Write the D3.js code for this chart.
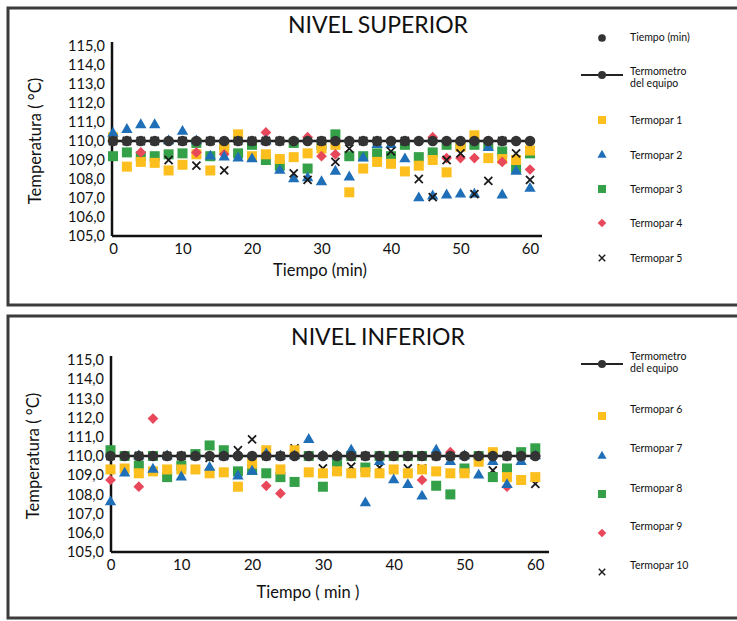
<!DOCTYPE html>
<html>
<head>
<meta charset="utf-8">
<script src="https://cdn.jsdelivr.net/npm/d3@7"></script>
<style>
  body { margin: 0; background: #fff; }
  text { font-family: Lato, "Open Sans", sans-serif; fill: #111; }
</style>
</head>
<body>
<svg id="chart" width="737" height="621"></svg>
<script>
// time axis (min) and the reference thermometer
const tiempo = [0, 2, 4, 6, 8, 10, 12, 14, 16, 18, 20, 22, 24, 26, 28, 30, 32, 34, 36, 38, 40, 42, 44, 46, 48, 50, 52, 54, 56, 58, 60];
const termometro = [110.0, 110.0, 110.0, 110.0, 110.0, 110.0, 110.0, 110.0, 110.0, 110.0, 110.0, 110.0, 110.0, 110.0, 110.0, 110.0,
    110.0, 110.0, 110.0, 110.0, 110.0, 110.0, 110.0, 110.0, 110.0, 110.0, 110.0, 110.0, 110.0, 110.0, 110.0];

// NIVEL SUPERIOR
const termopar1 = [110.2, 108.65, 108.9, 108.85, 108.45, 108.75, 109.3, 108.45, 109.6, 110.35, 109.2, 109.3, 109.05, 109.15, 109.35, 109.6,
    109.8, 107.3, 108.55, 108.9, 108.8, 108.4, 108.7, 109.0, 108.35, 109.7, 110.3, 109.1, 109.05, 109.0, 109.5];
const termopar2 = [110.4, 110.6, 110.85, 110.85, 110.0, 110.5, 110.0, 109.2, 109.15, 109.1, 109.05, 110.0, 108.45, 108.0, 108.05, 107.85,
    108.4, 108.1, 109.1, 109.8, 109.8, 109.05, 107.0, 107.1, 107.15, 107.2, 107.2, 109.65, 107.15, 108.4, 107.5];
const termopar3 = [109.2, 109.4, 109.2, 109.2, 109.3, 109.35, 109.9, 109.2, 109.8, 109.35, 109.8, 109.0, 108.7, 109.9, 108.55, 109.8,
    110.35, 109.2, 109.2, 109.35, 109.2, 109.8, 109.15, 109.4, 109.8, 109.8, 109.8, 109.8, 109.45, 108.55, 109.35];
const termopar4 = [110.0, 110.0, 109.4, 110.0, 110.0, 110.0, 109.4, 110.0, 109.3, 110.0, 110.0, 110.45, 110.0, 110.0, 110.2, 109.2,
    109.3, 110.0, 110.0, 110.0, 110.0, 110.0, 110.0, 110.2, 109.1, 109.1, 109.1, 110.0, 108.9, 110.0, 108.5];
const termopar5 = [110.0, 110.0, 110.0, 110.0, 109.0, 110.0, 108.7, 110.0, 108.45, 110.0, 110.0, 110.0, 110.0, 108.3, 107.95, 110.0,
    108.9, 109.6, 110.0, 110.0, 109.45, 110.0, 108.0, 107.05, 109.0, 109.35, 107.2, 107.9, 110.0, 109.35, 107.95];

// NIVEL INFERIOR
const termopar6 = [109.3, 109.35, 109.1, 109.2, 109.3, 109.3, 109.3, 109.1, 109.15, 108.4, 109.6, 110.3, 109.3, 110.3, 109.15, 109.1,
    109.2, 109.1, 109.15, 109.1, 109.3, 109.1, 109.3, 109.2, 109.1, 109.1, 109.7, 110.2, 108.9, 108.75, 108.9];
const termopar7 = [107.6, 109.1, 110.0, 109.3, 110.0, 108.9, 110.0, 109.4, 110.0, 108.95, 109.2, 110.1, 110.0, 110.0, 110.85, 110.0,
    110.0, 110.3, 107.55, 109.7, 108.75, 108.5, 107.9, 110.3, 109.7, 110.0, 109.0, 109.7, 108.5, 109.7, 110.0];
const termopar8 = [110.3, 110.0, 109.5, 110.0, 108.9, 109.5, 110.1, 110.55, 110.3, 109.2, 109.27, 109.1, 108.9, 108.65, 110.0, 108.4,
    109.7, 110.0, 109.4, 110.0, 110.0, 110.0, 110.0, 108.45, 108.0, 109.35, 110.0, 108.9, 109.35, 110.2, 110.4];
const termopar9 = [108.75, 110.0, 108.4, 111.95, 110.0, 110.0, 110.0, 110.0, 110.0, 110.0, 110.0, 108.45, 108.05, 110.0, 110.0, 110.0,
    110.0, 110.0, 110.0, 110.0, 110.0, 110.0, 108.75, 110.1, 110.2, 110.0, 110.0, 110.0, 108.4, 110.0, 110.0];
const termopar10 = [110.0, 110.0, 110.0, 110.0, 110.0, 110.0, 110.0, 109.9, 110.0, 110.3, 110.87, 110.0, 110.0, 110.4, 110.0, 109.35,
    109.45, 109.45, 110.0, 109.4, 110.0, 109.35, 109.35, 110.0, 110.0, 109.3, 110.0, 109.25, 110.0, 110.0, 108.55];

const yTicks = [105, 106, 107, 108, 109, 110, 111, 112, 113, 114, 115];
const xTicks = [0, 10, 20, 30, 40, 50, 60];

const colors = {
    yellow: '#fcbf1e',
    blue: '#1f6fb8',
    green: '#34a047',
    red: '#e8485a',
    dark: '#333333'
};

const svg = d3.select('#chart');
const fmt = d => d.toFixed(1).replace('.', ',');

function marker(g, shape, color) {
    if (shape === 'x') {
        g.append('path')
            .attr('d', d3.symbol(d3.symbolX, 44)())
            .attr('fill', 'none')
            .attr('stroke', '#1a1a1a')
            .attr('stroke-width', 1.8);
    } else if (shape === 'square') {
        g.append('rect').attr('x', -5).attr('y', -5).attr('width', 10).attr('height', 10).attr('fill', color);
    } else if (shape === 'triangle') {
        g.append('path').attr('d', d3.symbol(d3.symbolTriangle, 56)()).attr('fill', color);
    } else if (shape === 'diamond') {
        // square turned 45°, like the spreadsheet diamond
        g.append('rect').attr('x', -3.8).attr('y', -3.8).attr('width', 7.6).attr('height', 7.6)
            .attr('transform', 'rotate(45)').attr('fill', color);
    } else if (shape === 'dot') {
        g.append('circle').attr('r', 4.8).attr('fill', color);
    }
}

function drawPanel(p) {
    const g = svg.append('g');

    // scanned frame
    g.append('rect')
        .attr('x', 8).attr('y', p.frameTop)
        .attr('width', 760).attr('height', p.frameBottom - p.frameTop)
        .attr('fill', 'none')
        .attr('stroke', '#3c3c3c')
        .attr('stroke-width', 3);

    g.append('text')
        .attr('x', p.titleX).attr('y', p.titleY)
        .attr('text-anchor', 'middle')
        .attr('font-size', 23)
        .text(p.title);

    const x = d3.scaleLinear().domain([0, 60]).range(p.xRange);
    const y = d3.scaleLinear().domain([105, 115]).range(p.yRange);

    // y axis
    const yAxis = g.append('g')
        .attr('transform', 'translate(' + p.axisX + ',0)')
        .call(d3.axisLeft(y).tickValues(yTicks).tickSize(0).tickPadding(7).tickFormat(fmt));
    yAxis.select('.domain').remove();
    yAxis.selectAll('text').attr('font-size', 14.5).attr('font-family', 'Lato, sans-serif').attr('fill', '#111');
    g.append('line')
        .attr('x1', p.axisX).attr('x2', p.axisX)
        .attr('y1', y(115) - 4).attr('y2', y(105))
        .attr('stroke', '#111').attr('stroke-width', 2.5);

    // x axis
    const xAxis = g.append('g')
        .attr('transform', 'translate(0,' + y(105) + ')')
        .call(d3.axisBottom(x).tickValues(xTicks).tickSize(0).tickPadding(7));
    xAxis.select('.domain').remove();
    xAxis.selectAll('text').attr('font-size', 15).attr('font-family', 'Lato, sans-serif').attr('fill', '#111');
    g.append('line')
        .attr('x1', p.axisX).attr('x2', p.xAxisEnd)
        .attr('y1', y(105)).attr('y2', y(105))
        .attr('stroke', '#111').attr('stroke-width', 2.5);

    g.append('text')
        .attr('transform', 'translate(' + p.yTitleX + ',' + y(110) + ') rotate(-90)')
        .attr('text-anchor', 'middle')
        .attr('font-size', 16.5)
        .text('Temperatura ( °C)');
    g.append('text')
        .attr('x', p.xTitleX).attr('y', p.xTitleY)
        .attr('text-anchor', 'middle')
        .attr('font-size', 16.5)
        .text(p.xTitle);

    // thermocouple markers
    p.series.forEach(function (s) {
        g.append('g').selectAll('g')
            .data(s.values)
            .join('g')
            .attr('transform', (d, i) => 'translate(' + x(tiempo[i]) + ',' + y(d) + ')')
            .each(function () { marker(d3.select(this), s.shape, s.color); });
    });

    // equipment thermometer
    const line = d3.line().x((d, i) => x(tiempo[i])).y(d => y(d));
    g.append('path')
        .datum(termometro)
        .attr('d', line)
        .attr('fill', 'none')
        .attr('stroke', '#222')
        .attr('stroke-width', 2.5);
    g.append('g').selectAll('circle')
        .data(termometro)
        .join('circle')
        .attr('cx', (d, i) => x(tiempo[i]))
        .attr('cy', d => y(d))
        .attr('r', 5.3)
        .attr('fill', colors.dark);

    // legend
    p.legend.forEach(function (l) {
        const lg = g.append('g');
        if (l.shape === 'line') {
            lg.append('line')
                .attr('x1', 581).attr('x2', 623)
                .attr('y1', l.sy).attr('y2', l.sy)
                .attr('stroke', '#222').attr('stroke-width', 2);
            lg.append('circle').attr('cx', 602).attr('cy', l.sy).attr('r', 4).attr('fill', colors.dark);
        } else {
            marker(lg.append('g').attr('transform', 'translate(602,' + l.sy + ') scale(0.8)'), l.shape, l.color);
        }
        l.lines.forEach(function (t, i) {
            lg.append('text')
                .attr('x', 630).attr('y', l.ty + i * 11.5)
                .attr('font-size', 10.5)
                .text(t);
        });
    });
}

drawPanel({
    title: 'NIVEL SUPERIOR', titleX: 378, titleY: 33,
    frameTop: 8, frameBottom: 305,
    xRange: [113, 530], xAxisEnd: 542, yRange: [236, 46], axisX: 112,
    yTitleX: 41, xTitle: 'Tiempo (min)', xTitleX: 320, xTitleY: 276,
    series: [
        { values: termopar3, shape: 'square', color: colors.green },
        { values: termopar1, shape: 'square', color: colors.yellow },
        { values: termopar4, shape: 'diamond', color: colors.red },
        { values: termopar2, shape: 'triangle', color: colors.blue },
        { values: termopar5, shape: 'x', color: '#111' }
    ],
    legend: [
        { shape: 'dot', color: colors.dark, sy: 38, ty: 41, lines: ['Tiempo (min)'] },
        { shape: 'line', sy: 75, ty: 75, lines: ['Termometro', 'del equipo'] },
        { shape: 'square', color: colors.yellow, sy: 120, ty: 124, lines: ['Termopar 1'] },
        { shape: 'triangle', color: colors.blue, sy: 155, ty: 159, lines: ['Termopar 2'] },
        { shape: 'square', color: colors.green, sy: 189, ty: 193, lines: ['Termopar 3'] },
        { shape: 'diamond', color: colors.red, sy: 223, ty: 227, lines: ['Termopar 4'] },
        { shape: 'x', sy: 258, ty: 262, lines: ['Termopar 5'] }
    ]
});

drawPanel({
    title: 'NIVEL INFERIOR', titleX: 378, titleY: 345,
    frameTop: 316, frameBottom: 618,
    xRange: [110.5, 535.3], xAxisEnd: 549, yRange: [552, 360], axisX: 111,
    yTitleX: 39, xTitle: 'Tiempo ( min )', xTitleX: 308, xTitleY: 598,
    series: [
        { values: termopar10, shape: 'x', color: '#111' },
        { values: termopar8, shape: 'square', color: colors.green },
        { values: termopar6, shape: 'square', color: colors.yellow },
        { values: termopar9, shape: 'diamond', color: colors.red },
        { values: termopar7, shape: 'triangle', color: colors.blue }
    ],
    legend: [
        { shape: 'line', sy: 364, ty: 360, lines: ['Termometro', 'del equipo'] },
        { shape: 'square', color: colors.yellow, sy: 416, ty: 413, lines: ['Termopar 6'] },
        { shape: 'triangle', color: colors.blue, sy: 456, ty: 452, lines: ['Termopar 7'] },
        { shape: 'square', color: colors.green, sy: 494, ty: 492, lines: ['Termopar 8'] },
        { shape: 'diamond', color: colors.red, sy: 533, ty: 530, lines: ['Termopar 9'] },
        { shape: 'x', sy: 572, ty: 569, lines: ['Termopar 10'] }
    ]
});
</script>
</body>
</html>
